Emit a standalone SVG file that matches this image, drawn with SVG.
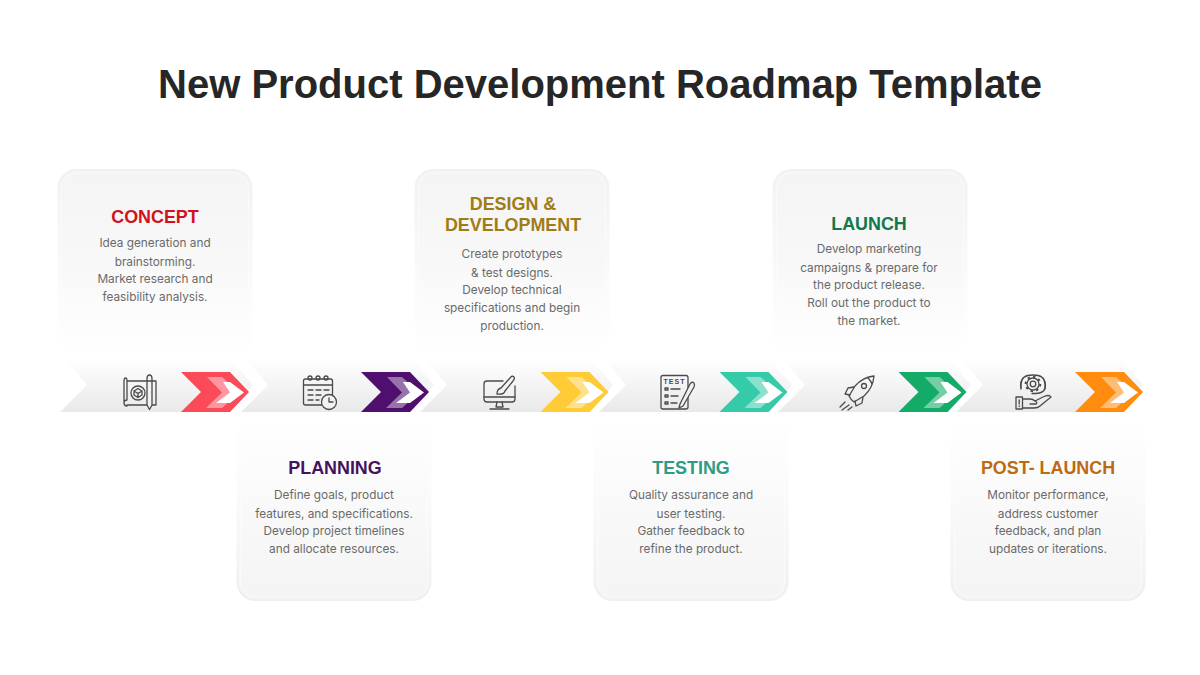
<svg xmlns="http://www.w3.org/2000/svg" width="1200" height="675" viewBox="0 0 1200 675">
<defs>
<linearGradient id="cardTop" x1="0" y1="0" x2="0" y2="1"><stop offset="0" stop-color="#f4f4f5"/><stop offset="0.5" stop-color="#f8f8f8"/><stop offset="1" stop-color="#ffffff"/></linearGradient>
<linearGradient id="cardBot" x1="0" y1="0" x2="0" y2="1"><stop offset="0" stop-color="#ffffff"/><stop offset="0.5" stop-color="#f9f9f9"/><stop offset="1" stop-color="#f4f4f5"/></linearGradient>
<linearGradient id="edgeTop" x1="0" y1="0" x2="0" y2="1"><stop offset="0" stop-color="#f1f1f1"/><stop offset="0.6" stop-color="#fbfbfb"/><stop offset="1" stop-color="#ffffff"/></linearGradient>
<linearGradient id="edgeBot" x1="0" y1="0" x2="0" y2="1"><stop offset="0" stop-color="#ffffff"/><stop offset="0.4" stop-color="#fbfbfb"/><stop offset="1" stop-color="#efefef"/></linearGradient>
<linearGradient id="band" x1="0" y1="0" x2="0" y2="1"><stop offset="0" stop-color="#ffffff"/><stop offset="1" stop-color="#e9e9e9"/></linearGradient>
<path id="seg" d="M0 54 L27 27 L4 0 H170 L193 27 L170 54 Z"/>
<path id="segLast" d="M0 54 L27 27 L4 0 H164 L187 27 L164 54 Z"/>
<path id="c1" d="M0 0 H49 L68 20 L49 40 H0 L20 20 Z"/>
<path id="c2" d="M0 0 H15 L32 15.500 L15 31 H-1 L15 15.500 Z"/>
<path id="c3" d="M0 0 H7 L21 10.500 L7 21 H-7 L7 10.500 Z"/>
<g id="chev"><use href="#c1"/><use href="#c2" x="26" y="5" fill="#fff" fill-opacity="0.42"/><use href="#c3" x="42" y="10" fill="#fff"/></g>
</defs>
<style>
text{font-family:"Inter","Liberation Sans",sans-serif;text-anchor:middle}
.title{font-family:"Liberation Sans",Arial,sans-serif;font-size:40px;font-weight:700;fill:#262626}
.head{font-family:"Liberation Sans",Arial,sans-serif;font-size:17.900px;font-weight:700}
.body{font-size:11.800px;fill:#6a6a6a}
.ic{fill:none;stroke:#4a4a4a;stroke-width:1.300;stroke-linecap:round;stroke-linejoin:round}
.inT,.inB{fill:none;stroke:#fff;stroke-width:0.800;stroke-opacity:0.6}
</style>
<rect width="1200" height="675" fill="#fff"/>
<text class="title" x="600" y="98">New Product Development Roadmap Template</text>

<g id="cards">
<g id="card-concept"><rect x="58.500" y="170" width="193" height="184" rx="18" fill="url(#cardTop)" stroke="url(#edgeTop)" stroke-width="2"/><rect class="inT" x="61.500" y="173" width="187" height="178" rx="15"/>
<text class="head" x="155" y="223" fill="#d0121f">CONCEPT</text>
<text class="body"><tspan x="155" y="247">Idea generation and</tspan><tspan x="155" y="265.500">brainstorming.</tspan><tspan x="155" y="283">Market research and</tspan><tspan x="155" y="301">feasibility analysis.</tspan></text></g>
<g id="card-planning"><rect x="237.500" y="416" width="193" height="184" rx="18" fill="url(#cardBot)" stroke="url(#edgeBot)" stroke-width="2"/><rect class="inB" x="240.500" y="419" width="187" height="178" rx="15"/>
<text class="head" x="335" y="474" fill="#45125e">PLANNING</text>
<text class="body"><tspan x="334" y="499">Define goals, product</tspan><tspan x="334" y="517.500">features, and specifications.</tspan><tspan x="334" y="535">Develop project timelines</tspan><tspan x="334" y="553">and allocate resources.</tspan></text></g>
<g id="card-design"><rect x="415.500" y="170" width="193" height="184" rx="18" fill="url(#cardTop)" stroke="url(#edgeTop)" stroke-width="2"/><rect class="inT" x="418.500" y="173" width="187" height="178" rx="15"/>
<text class="head" x="513" y="210" fill="#a07c16">DESIGN &amp;</text><text class="head" x="513" y="231" fill="#a07c16">DEVELOPMENT</text>
<text class="body"><tspan x="512" y="258">Create prototypes</tspan><tspan x="512" y="276.500">&amp; test designs.</tspan><tspan x="512" y="294">Develop technical</tspan><tspan x="512" y="312">specifications and begin</tspan><tspan x="512" y="330">production.</tspan></text></g>
<g id="card-testing"><rect x="594.500" y="416" width="193" height="184" rx="18" fill="url(#cardBot)" stroke="url(#edgeBot)" stroke-width="2"/><rect class="inB" x="597.500" y="419" width="187" height="178" rx="15"/>
<text class="head" x="691" y="474" fill="#2e9c85">TESTING</text>
<text class="body"><tspan x="691" y="499">Quality assurance and</tspan><tspan x="691" y="517.500">user testing.</tspan><tspan x="691" y="535">Gather feedback to</tspan><tspan x="691" y="553">refine the product.</tspan></text></g>
<g id="card-launch"><rect x="773.500" y="170" width="193" height="184" rx="18" fill="url(#cardTop)" stroke="url(#edgeTop)" stroke-width="2"/><rect class="inT" x="776.500" y="173" width="187" height="178" rx="15"/>
<text class="head" x="869" y="230" fill="#12784c">LAUNCH</text>
<text class="body"><tspan x="869" y="253">Develop marketing</tspan><tspan x="869" y="271.500">campaigns &amp; prepare for</tspan><tspan x="869" y="289">the product release.</tspan><tspan x="869" y="307">Roll out the product to</tspan><tspan x="869" y="325">the market.</tspan></text></g>
<g id="card-post"><rect x="951.500" y="416" width="193" height="184" rx="18" fill="url(#cardBot)" stroke="url(#edgeBot)" stroke-width="2"/><rect class="inB" x="954.500" y="419" width="187" height="178" rx="15"/>
<text class="head" x="1048" y="474" fill="#bd6a14">POST- LAUNCH</text>
<text class="body"><tspan x="1048" y="499">Monitor performance,</tspan><tspan x="1048" y="517.500">address customer</tspan><tspan x="1048" y="535">feedback, and plan</tspan><tspan x="1048" y="553">updates or iterations.</tspan></text></g>
</g>

<g id="connectors">
<use href="#seg" x="60" y="358" fill="url(#band)"/>
<use href="#seg" x="241" y="358" fill="url(#band)"/>
<use href="#seg" x="420" y="358" fill="url(#band)"/>
<use href="#seg" x="599" y="358" fill="url(#band)"/>
<use href="#seg" x="778" y="358" fill="url(#band)"/>
<use href="#segLast" x="956" y="358" fill="url(#band)"/>
<use href="#chev" x="181" y="372" fill="#fb4b59"/>
<use href="#chev" x="361" y="372" fill="#4e0f6e"/>
<use href="#chev" x="540.500" y="372" fill="#ffcb37"/>
<use href="#chev" x="719.500" y="372" fill="#36cba8"/>
<use href="#chev" x="898.500" y="372" fill="#14ab68"/>
<use href="#chev" x="1075" y="372" fill="#ff8c0f"/>
</g>

<g id="icons" class="ic">
<g id="icon-concept"><path d="M127 381 H156 V405 H127 M124 402 V381 Q124 378 125.500 378 Q127 378 127 381 V400 Q124 400 124 403 Q124 406 127 406"/><circle cx="138" cy="393" r="7"/><path d="M134 391 L138 388.500 L142 391 V395 L138 397.500 L134 395 Z M134 391 L138 393.500 L142 391 M138 393.500 V397.500"/><path d="M147 379 Q147 375 149.500 375 Q152 375 152 379 V405 L149.500 409.500 L147 405 Z M147 381 H152" fill="#f2f2f2"/></g>
<g id="icon-planning"><rect x="303.500" y="379" width="29" height="26" rx="2"/><path d="M303.500 385 H332.500"/><circle cx="310" cy="378" r="2"/><circle cx="318" cy="378" r="2"/><circle cx="326" cy="378" r="2"/><path d="M308 390 H313 M316 390 H321 M324 390 H329 M308 395 H313 M316 395 H321 M308 400 H313 M316 400 H319"/><circle cx="329" cy="402" r="7.500" fill="#f2f2f2"/><path d="M329 398 V402 H333"/></g>
<g id="icon-design"><path d="M503 381 H487 Q484 381 484 384 V399 Q484 402 487 402 H512 Q515 402 515 399 V386"/><path d="M484 397 H515 M497 402 L496 407 H503 L502 402 M490 409 H509"/><path d="M497 394 Q497 389 501 388 L510 378 Q512 375 514 377 Q515 379 513 381 L505 391 Q504 395 497 394 Z"/></g>
<g id="icon-testing"><rect x="661" y="375.500" width="27" height="33.500" rx="2"/><text x="674.500" y="384" style="font-size:7px;font-weight:700;letter-spacing:1px;fill:#4a4a4a;stroke:none;font-family:'Liberation Sans',sans-serif">TEST</text><rect x="665" y="388" width="3" height="2"/><rect x="665" y="395" width="3" height="2"/><rect x="665" y="402" width="3" height="2"/><path d="M671 389 H680 M671 396 H678 M671 403 H677"/><path d="M680 404 L690 384 Q692 381 694 383 Q695 385 694 387 L683 406 L679 408 Z" fill="#f0f0f0"/></g>
<g id="icon-launch"><path d="M874 376 Q863 377 855 386 L849 396 Q851 400 854 402 L864 396 Q873 388 874 376 Z"/><circle cx="864" cy="386" r="2.500"/><path d="M854 387 L848 388 L845 394 L850 395 M863 397 L862 403 L856 406 L855 401 M868 378 Q871 381 872 384"/><path d="M845 402 L840 407 M849 405 L842 410 M852 407 L848 410"/></g>
<g id="icon-post"><circle cx="1033" cy="384" r="2.800"/><circle cx="1033" cy="384" r="6"/><circle cx="1033" cy="384" r="7.300" stroke-width="2" stroke-dasharray="2.400 3.300" stroke-linecap="butt"/><path d="M1021 388 V384 Q1021 375 1033 375 Q1045 375 1045 384 V388 Q1044 393 1036 393.500 H1032"/><path d="M1021 382 Q1020 385 1021 389 M1045 382 Q1046 385 1045 389"/><rect x="1016" y="397" width="6.500" height="12"/><path d="M1019.200 400 V404 M1019.200 406 V406.500"/><path d="M1023 399 H1030 Q1033 399 1035 401 L1043 397 Q1049 394 1051 397 L1040 406 Q1038 408 1034 408 H1023 M1030 404 H1036 Q1038 402 1035 401"/></g>
</g>
</svg>
